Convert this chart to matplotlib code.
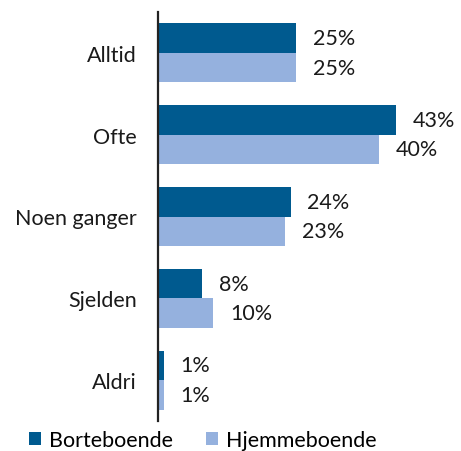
import matplotlib
matplotlib.use("Agg")
import matplotlib.pyplot as plt
import numpy as np

# Svar per kategori, andel i prosent
kategorier = ["Alltid", "Ofte", "Noen ganger", "Sjelden", "Aldri"]
borteboende = [25, 43, 24, 8, 1]
hjemmeboende = [25, 40, 23, 10, 1]
serier = ["Borteboende", "Hjemmeboende"]

farge_borte = "#005a8f"
farge_hjemme = "#95b1de"

plt.rcParams["font.family"] = ["Lato", "DejaVu Sans"]

fig = plt.figure(figsize=(4.61, 4.52), dpi=100)
ax = fig.add_axes([158 / 461, 30 / 452, 1 - 158 / 461, 409 / 452])

y = np.arange(len(kategorier))
h = 0.36
b1 = ax.barh(y - h / 2, borteboende, height=h, color=farge_borte, label=serier[0])
b2 = ax.barh(y + h / 2, hjemmeboende, height=h, color=farge_hjemme, label=serier[1])

for bars, vals in ((b1, borteboende), (b2, hjemmeboende)):
    for bar, v in zip(bars, vals):
        ax.annotate(f"{v}%", (bar.get_width(), bar.get_y() + bar.get_height() / 2),
                    xytext=(12, 0), textcoords="offset points",
                    va="center", ha="left", fontsize=15.5, color="#1a1a1a")

ax.set_xlim(0, 54.8)
ax.set_ylim(len(kategorier) - 0.5, -0.5)
ax.set_yticks(y)
ax.set_yticklabels(kategorier, fontsize=15.5, color="#1a1a1a")
ax.tick_params(axis="y", length=0, pad=15)
ax.set_xticks([])
for s in ("top", "right", "bottom"):
    ax.spines[s].set_visible(False)
ax.spines["left"].set_linewidth(1.6)
ax.spines["left"].set_color("#222222")

fig.legend(handles=[b1, b2], labels=serier, loc="center",
           bbox_to_anchor=(0.44, 0.025), ncol=2, frameon=False,
           fontsize=15.5, handlelength=0.55, handleheight=0.55,
           handletextpad=0.4, columnspacing=1.5, borderaxespad=0)

fig.savefig("out.png", dpi=100)
